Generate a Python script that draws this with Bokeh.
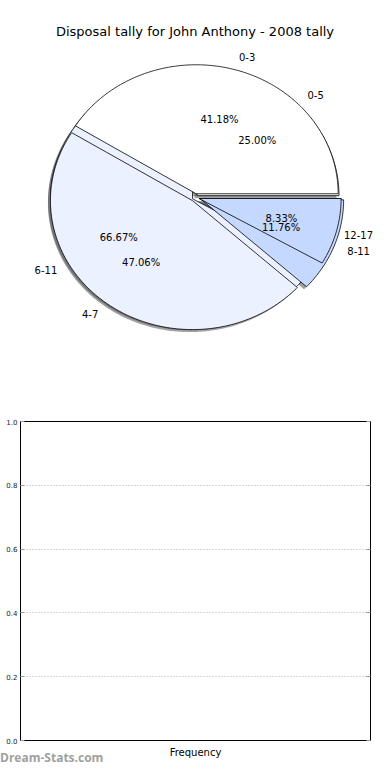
import numpy as np
from bokeh.plotting import figure
from bokeh.layouts import column
from bokeh.models import (Range1d, ColumnDataSource, FixedTicker, LinearAxis, Div,
                          FactorRange, NumeralTickFormatter, CustomJSTickFormatter)
from bokeh.core.properties import value
from bokeh.embed import file_html
from bokeh.resources import INLINE

# ---------------- data ----------------
chart_title = "Disposal tally for John Anthony - 2008 tally"
labels_a = ["0-3", "4-7", "8-11"]
counts_a = [7, 8, 2]
labels_b = ["0-5", "6-11", "12-17"]
counts_b = [3, 8, 1]
wedge_colors = ["#ffffff", "#ebf1ff", "#c5d8ff"]
explode_a = [0.03, 0.03, 0.05]
explode_b = [0.02, 0.02, 0.03]
bar_categories = ["Frequency"]
bar_values = []
y_ticks = [0.0, 0.2, 0.4, 0.6, 0.8, 1.0]
watermark = "Dream-Stats.com"

FONT = "DejaVu Sans"
W = 374
BL, BR = 20, 4          # left / right borders of the axes plot

# ---------------- pie figure ----------------
H1 = 384
p1 = figure(width=W, height=H1, output_backend="svg", toolbar_location=None,
            x_axis_location=None, y_axis_location=None,
            min_border_left=0, min_border_right=0, min_border_top=0, min_border_bottom=0)
try:
    p1.frame_align = False
    FL, FR = 0, W
except Exception:
    p1.min_border_left, p1.min_border_right = BL, BR
    FL, FR = BL, W - BR
p1.x_range = Range1d(FL, FR)
p1.y_range = Range1d(0, H1)
p1.grid.visible = False
p1.outline_line_color = None

CX = 194.5              # pie centre, px from left
CY = H1 - 197.0         # pie centre, px from bottom
RX, RY = 142.0, 129.0
LBL_FS = 10


def build(counts, explode, labels):
    total = float(sum(counts))
    fr = np.array(counts, dtype=float) / total
    ends = np.cumsum(fr) * 2 * np.pi
    starts = ends - fr * 2 * np.pi
    res = dict(xs=[], ys=[], sxs=[], sys=[], color=[], lx=[], ly=[], la=[], lt=[],
               px=[], py=[], pt=[], shadow=[])
    for i, (s, e, ex) in enumerate(zip(starts, ends, explode)):
        mid = (s + e) / 2
        ox = CX + ex * RX * np.cos(mid)
        oy = CY + ex * RY * np.sin(mid)
        t = np.linspace(s, e, max(int((e - s) * 80), 4))
        xs = [ox] + list(ox + RX * np.cos(t))
        ys = [oy] + list(oy + RY * np.sin(t))
        res["xs"].append(xs)
        res["ys"].append(ys)
        res["sxs"].append([x - 2.5 for x in xs])
        res["sys"].append([y - 2.5 for y in ys])
        res["color"].append(wedge_colors[i])
        rgb = [int(wedge_colors[i][k:k + 2], 16) for k in (1, 3, 5)]
        res["shadow"].append("#%02x%02x%02x" % tuple(int(0.3 * c) for c in rgb))
        lx = ox + 1.1 * RX * np.cos(mid)
        if np.cos(mid) > 0:
            # keep the whole label inside the drawing area
            lx = min(lx, FR - 0.6 * LBL_FS * len(labels[i]) - 0.5)
        res["lx"].append(lx)
        res["ly"].append(oy + 1.1 * RY * np.sin(mid))
        res["la"].append("left" if np.cos(mid) > 0 else "right")
        res["lt"].append(labels[i])
        res["px"].append(ox + 0.6 * RX * np.cos(mid))
        res["py"].append(oy + 0.6 * RY * np.sin(mid))
        res["pt"].append("%.2f%%" % (fr[i] * 100))
    return res


A = build(counts_a, explode_a, labels_a)
B = build(counts_b, explode_b, labels_b)

for D in (B, A):
    p1.patches(xs=D["sxs"], ys=D["sys"], fill_color=D["shadow"], fill_alpha=0.5, line_color=None)
for D in (B, A):
    p1.patches(xs=D["xs"], ys=D["ys"], fill_color=D["color"], line_color="black", line_width=0.8)
p1.patches(xs=[B["xs"][2]], ys=[B["ys"][2]], fill_color=[B["color"][2]], line_color="black", line_width=0.8)

for D in (A, B):
    src = ColumnDataSource(dict(x=D["lx"], y=D["ly"], t=D["lt"], a=D["la"]))
    p1.text(x="x", y="y", text="t", text_align="a", source=src, text_baseline="middle",
            text_font=value(FONT), text_font_size="%dpx" % LBL_FS, text_color="black")
    src2 = ColumnDataSource(dict(x=D["px"], y=D["py"], t=D["pt"]))
    p1.text(x="x", y="y", text="t", text_align="center", source=src2, text_baseline="middle",
            text_font=value(FONT), text_font_size="%dpx" % LBL_FS, text_color="black")

p1.text(x=[194.5], y=[H1 - 31], text=[chart_title], text_align="center", text_baseline="middle",
        text_font=value(FONT), text_font_size="13px", text_color="black")

# ---------------- empty bar axes ----------------
H2 = 380
p2 = figure(width=W, height=H2, x_range=FactorRange(*bar_categories), y_range=Range1d(0, 1),
            output_backend="svg", toolbar_location=None,
            min_border_left=BL, min_border_right=BR, min_border_top=421 - H1, min_border_bottom=24)
try:
    p2.frame_align = False
except Exception:
    pass
p2.vbar(x=bar_categories[:len(bar_values)], top=bar_values, width=0.5)
p2.outline_line_color = "black"
p2.outline_line_alpha = 1
p2.outline_line_width = 1
p2.xgrid.visible = False
p2.ygrid.ticker = FixedTicker(ticks=y_ticks)
p2.ygrid.grid_line_color = "#b0b0b0"
p2.ygrid.grid_line_dash = "1 2"
p2.ygrid.grid_line_width = 1

ya = p2.yaxis[0]
ya.ticker = FixedTicker(ticks=y_ticks)
ya.formatter = NumeralTickFormatter(format="0.0")
ya.minor_tick_line_color = None
ya.major_tick_in = 4
ya.major_tick_out = 0
ya.major_tick_line_color = "#999999"
ya.axis_line_color = None
ya.major_label_standoff = 3
ya.major_label_text_font = FONT
ya.major_label_text_font_size = "7px"
ya.major_label_text_color = "#222222"

ra = LinearAxis(ticker=FixedTicker(ticks=y_ticks), major_tick_in=4, major_tick_out=0,
                major_tick_line_color="#999999", minor_tick_line_color=None, axis_line_color=None,
                formatter=CustomJSTickFormatter(code="return ''"),
                major_label_text_color=None, major_label_standoff=0)
p2.add_layout(ra, "right")

xa = p2.xaxis[0]
xa.major_tick_line_color = None
xa.axis_line_color = None
xa.major_label_standoff = 0
xa.major_label_text_font = FONT
xa.major_label_text_font_size = "10px"
xa.major_label_text_color = "black"

wm = Div(text=watermark, width=W, height=12, margin=(-12, 0, 0, 0),
         styles={"font-family": "'Open Sans', sans-serif", "font-weight": "bold",
                 "font-size": "12px", "line-height": "12px", "color": "#a0a0a0"})

layout = column(p1, p2, wm, spacing=0)
open("out.html", "w").write(file_html(layout, INLINE))
